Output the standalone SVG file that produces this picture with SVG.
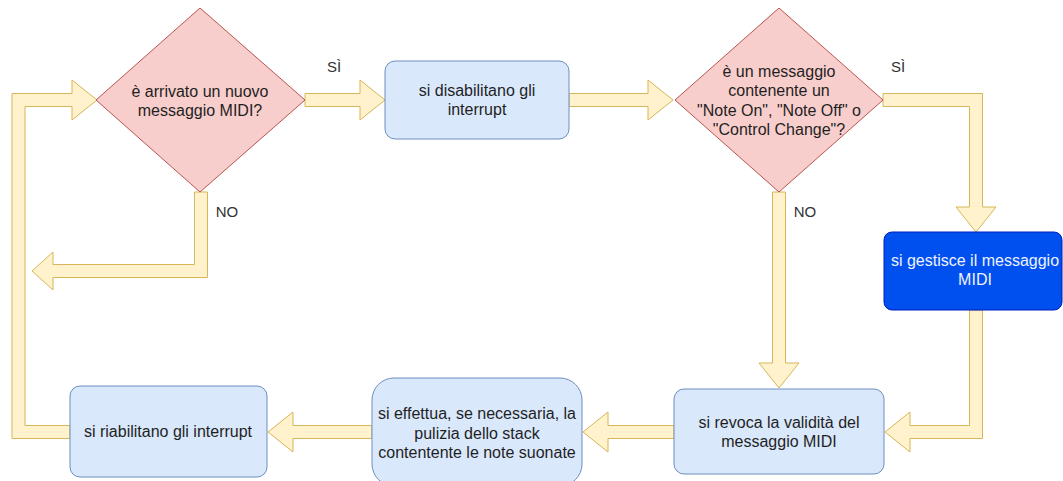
<svg xmlns="http://www.w3.org/2000/svg" width="1063" height="481" viewBox="0 0 1063 481">
  <style>
    .arrow { fill: #fff2cc; stroke: #d6b656; stroke-width: 1; stroke-linejoin: miter; }
    .decision { fill: #f8cecc; stroke: #b85450; stroke-width: 1; }
    .step { fill: #dae8fc; stroke: #6c8ebf; stroke-width: 1; }
    .active { fill: #0050ef; stroke: #001dbc; stroke-width: 1; }
    text { font-family: "Liberation Sans", Arial, sans-serif; font-size: 16px; fill: #1f1f1f; text-anchor: middle; }
    .light { fill: #eef3ff; }
    .label { fill: #333333; font-size: 15px; }
  </style>
  <rect width="1063" height="481" fill="#ffffff"/>

  <!-- flow connectors (wide block arrows) -->
  <g id="connectors">
    <path class="arrow" d="M305,93.5 H360 V80 L385,100 L360,120 V106.5 H305 Z"/>
    <path class="arrow" d="M569,93.5 H648 V80 L673,100 L648,120 V106.5 H569 Z"/>
    <path class="arrow" d="M883,93.5 H982.5 V207 H996 L976,232 L956,207 H969.5 V106.5 H883 Z"/>
    <path class="arrow" d="M772.5,192 V363 H759 L779,388 L799,363 H785.5 V192 Z"/>
    <path class="arrow" d="M969.5,310 V425.5 H910 V412 L885,432 L910,452 V438.5 H982.5 V310 Z"/>
    <path class="arrow" d="M674,425.5 H608 V412 L583,432 L608,452 V438.5 H674 Z"/>
    <path class="arrow" d="M372,425.5 H293 V412 L268,432 L293,452 V438.5 H372 Z"/>
    <path class="arrow" d="M70,425.5 H25 V106.5 H72 V120 L97,100 L72,80 V93.5 H12 V438.5 H70 Z"/>
    <path class="arrow" d="M194.5,192 V264.5 H53 V252 L32,271 L53,290 V277.5 H207.5 V192 Z"/>
    <text class="label" x="334" y="72">SÌ</text>
    <text class="label" x="898" y="72">SÌ</text>
    <text class="label" x="227" y="217">NO</text>
    <text class="label" x="805" y="217">NO</text>
  </g>

  <g id="new-message">
    <polygon class="decision" points="200,8 305,100 200,192 96,100"/>
    <text x="200" y="97">è arrivato un nuovo</text>
    <text x="200" y="116">messaggio MIDI?</text>
  </g>

  <g id="disable-interrupts">
    <rect class="step" x="385" y="61" width="184" height="78" rx="10"/>
    <text x="477" y="96">si disabilitano gli</text>
    <text x="477" y="115">interrupt</text>
  </g>

  <g id="message-type">
    <polygon class="decision" points="779,8 883,100 779,192 675,100"/>
    <text x="779" y="77">è un messaggio</text>
    <text x="779" y="96">contenente un</text>
    <text x="779" y="115.5">"Note On", "Note Off" o</text>
    <text x="779" y="134.5">"Control Change"?</text>
  </g>

  <g id="handle-message">
    <rect class="active" x="884" y="232" width="178" height="78" rx="8"/>
    <text class="light" x="975" y="266">si gestisce il messaggio</text>
    <text class="light" x="975" y="285">MIDI</text>
  </g>

  <g id="revoke-message">
    <rect class="step" x="674" y="389" width="210" height="85" rx="10"/>
    <text x="779" y="428">si revoca la validità del</text>
    <text x="779" y="447">messaggio MIDI</text>
  </g>

  <g id="clear-stack">
    <rect class="step" x="372" y="378" width="210" height="108" rx="22"/>
    <text x="477" y="419">si effettua, se necessaria, la</text>
    <text x="477" y="438.5">pulizia dello stack</text>
    <text x="477" y="458">contentente le note suonate</text>
  </g>

  <g id="enable-interrupts">
    <rect class="step" x="70" y="386" width="197" height="91" rx="10"/>
    <text x="168" y="437">si riabilitano gli interrupt</text>
  </g>
</svg>
